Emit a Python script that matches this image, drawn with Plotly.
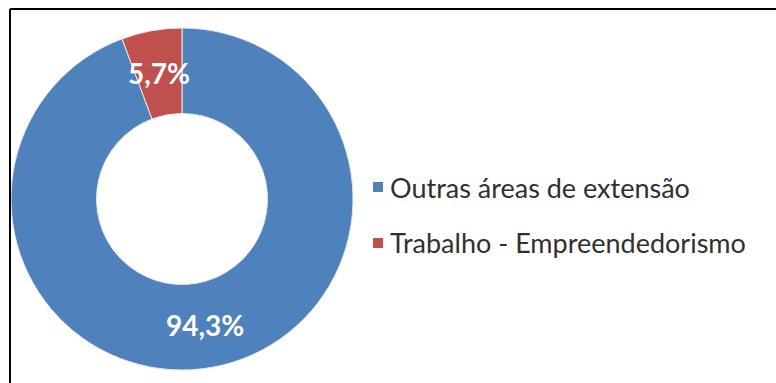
import math
import plotly.graph_objects as go

# Data
labels = ["Outras áreas de extensão", "Trabalho - Empreendedorismo"]
values = [94.3, 5.7]
colors = ["#4F81BD", "#C0504D"]

W, H = 776, 383

# Donut geometry (pixels)
cx, cy, R = 182, 199, 171
hole = 0.50

fig = go.Figure()
fig.add_trace(go.Pie(
    labels=labels,
    values=values,
    hole=hole,
    sort=False,
    direction="clockwise",
    rotation=0,
    textinfo="none",
    hoverinfo="label+percent",
    marker=dict(colors=colors, line=dict(color="#E8E8E8", width=1)),
    domain=dict(x=[(cx - R) / W, (cx + R) / W],
                y=[(H - cy - R) / H, (H - cy + R) / H]),
    showlegend=False,
))

# Percentage labels placed at the middle of each slice's ring
total = sum(values)
r_mid = (R + R * hole) / 2
cum = 0.0
annotations = []
for v in values:
    theta = (cum + v / 2) / total * 2 * math.pi
    cum += v
    px = cx + r_mid * math.sin(theta)
    py = cy - r_mid * math.cos(theta)
    annotations.append(dict(
        x=px / W, y=1 - py / H, xref="paper", yref="paper",
        text=f"{v:.1f}%".replace(".", ","), showarrow=False,
        font=dict(family="Lato", size=28, color="white", weight="bold"),
        xanchor="center", yanchor="middle",
    ))

# Legend entries: coloured square + label
leg_x, leg_y0, leg_dy, sq = 373, 187, 56, 10
shapes = []
for i, (lab, col) in enumerate(zip(labels, colors)):
    yc = leg_y0 + i * leg_dy
    shapes.append(dict(type="rect", xref="paper", yref="paper",
                       x0=leg_x / W, x1=(leg_x + sq) / W,
                       y0=1 - (yc + sq / 2) / H, y1=1 - (yc - sq / 2) / H,
                       fillcolor=col, line=dict(width=0)))
    annotations.append(dict(
        x=(leg_x + sq + 5) / W, y=1 - yc / H, xref="paper", yref="paper",
        text=lab, showarrow=False, xanchor="left", yanchor="middle",
        font=dict(family="Lato", size=27, color="#303030"),
    ))

# Frame (top and left edges visible)
shapes.append(dict(type="line", xref="paper", yref="paper",
                   x0=10 / W, x1=1.0, y0=1 - 9 / H, y1=1 - 9 / H,
                   line=dict(color="black", width=2)))
shapes.append(dict(type="line", xref="paper", yref="paper",
                   x0=10 / W, x1=10 / W, y0=1 - 9 / H, y1=0,
                   line=dict(color="black", width=2)))

fig.update_layout(
    width=W, height=H,
    margin=dict(l=0, r=0, t=0, b=0),
    paper_bgcolor="white", plot_bgcolor="white",
    annotations=annotations, shapes=shapes,
)

fig.write_html("out.html")
